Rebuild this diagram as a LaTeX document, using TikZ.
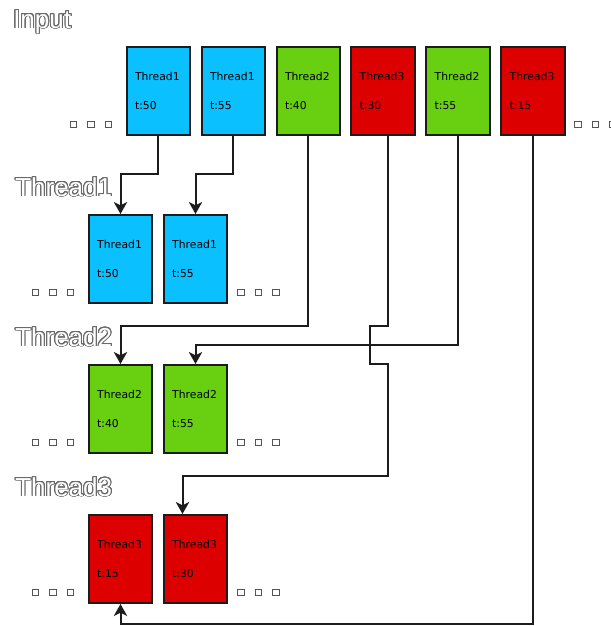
\documentclass[tikz,border=0pt]{standalone}
\usepackage{fontspec}
\setmainfont{DejaVu Sans}
\newfontfamily\headfont{Liberation Sans}
\usepackage[copies]{contour}
\usetikzlibrary{arrows.meta,calc}

\definecolor{tblue}{HTML}{0BC0FF}
\definecolor{tgreen}{HTML}{68D010}
\definecolor{tred}{HTML}{DD0000}
\definecolor{edge}{HTML}{1C1C1C}
\definecolor{outline}{HTML}{6A6A6A}
\definecolor{dotgray}{HTML}{555555}
\contourlength{0.7pt}
\contournumber{32}

\tikzset{
  job/.style={rectangle, draw=edge, line width=1.5pt,
    minimum width=47.25pt, minimum height=66pt,
    text width=34.9pt, inner xsep=6.2pt, inner ysep=0pt, align=left,
    font=\fontsize{8.1}{21.75}\selectfont},
  jb/.style={job, fill=tblue},
  jg/.style={job, fill=tgreen},
  jr/.style={job, fill=tred},
  heading/.style={anchor=base west, inner sep=0pt, text=white,
    font=\headfont\fontsize{19.5}{23}\selectfont},
  dot/.style={rectangle, draw=dotgray, fill=white, line width=0.8pt,
    minimum size=4.6pt, inner sep=0pt},
  conn/.style={draw=edge, line width=1.5pt,
    -{Stealth[length=9pt,width=10pt,inset=2.5pt]}},
}

\begin{document}
\begin{tikzpicture}[x=0.75pt,y=-0.75pt]
\useasboundingbox (0,0) rectangle (611,626);

% section titles
\node[heading] (hin) at (13,28)  {\contour{outline}{Input}};
\node[heading] (h1)  at (15,196) {\contour{outline}{Thread1}};
\node[heading] (h2)  at (15,346) {\contour{outline}{Thread2}};
\node[heading] (h3)  at (15,496) {\contour{outline}{Thread3}};

% input stream
\node[jb] (in1) at (158.3,91) {Thread1\\t:50};
\node[jb] (in2) at (233.3,91) {Thread1\\t:55};
\node[jg] (in3) at (308.3,91) {Thread2\\t:40};
\node[jr] (in4) at (383,91)   {Thread3\\t:30};
\node[jg] (in5) at (458,91)   {Thread2\\t:55};
\node[jr] (in6) at (533,91)   {Thread3\\t:15};

% per-thread queues
\node[jb] (t1a) at (120.5,259) {Thread1\\t:50};
\node[jb] (t1b) at (195.5,259) {Thread1\\t:55};
\node[jg] (t2a) at (120.5,409) {Thread2\\t:40};
\node[jg] (t2b) at (195.5,409) {Thread2\\t:55};
\node[jr] (t3a) at (120.5,559) {Thread3\\t:15};
\node[jr] (t3b) at (195.5,559) {Thread3\\t:30};

% ellipsis squares
\foreach \i/\x in {1/73.5,2/91,3/108.5,4/578,5/595.5,6/613}
  \node[dot] (d0\i) at (\x,124.5) {};
\foreach \r/\y in {1/292.5,2/442.5,3/592.5}
  \foreach \i/\x in {1/35.5,2/53,3/70.5,4/241,5/258.5,6/276}
    \node[dot] (d\r\i) at (\x,\y) {};

% routing
\draw[conn] (in1.south) -- ++(0,38) -| (t1a.north);
\draw[conn] (in2.south) -- ++(0,38) -| (t1b.north);
\draw[conn] (in3.south) -- ++(0,190) -| (t2a.north);
\draw[conn] (in5.south) -- ++(0,209) -| (t2b.north);
\draw[conn] ($(in4.south)+(5,0)$) -- ++(0,190) -- ++(-18.5,0) -- ++(0,38)
  -- ++(18.5,0) -- ++(0,112) -| ($(t3b.north)+(-13,0)$);
\draw[conn] (in6.south) -- ++(0,488) -| (t3a.south);
\end{tikzpicture}
\end{document}
